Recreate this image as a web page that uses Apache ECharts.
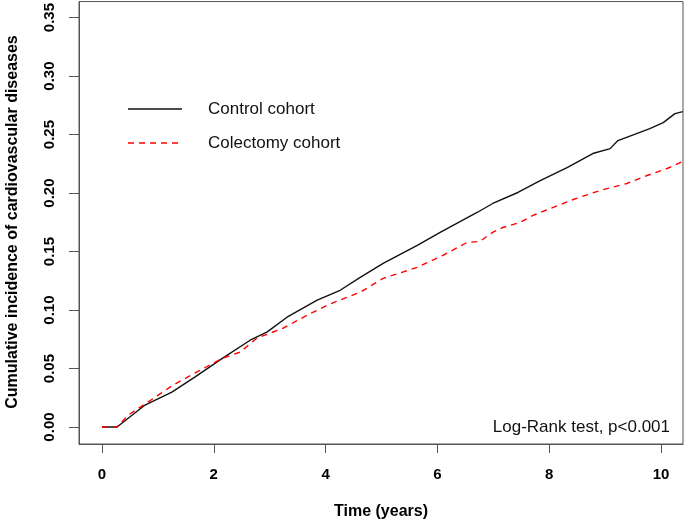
<!DOCTYPE html>
<html>
<head>
<meta charset="utf-8">
<script src="https://cdn.jsdelivr.net/npm/echarts@6/dist/echarts.min.js"></script>
<style>
html,body{margin:0;padding:0;background:#fff;}
#chart{width:685px;height:521px;}
</style>
</head>
<body>
<div id="chart"></div>
<script>
// ---- data ----
const seriesNames = ['Control cohort', 'Colectomy cohort'];
const controlTime = [0, 0.27, 0.77, 1.25, 1.66, 2.16, 2.65, 2.95, 3.31, 3.85, 4.26, 4.62, 5.03, 5.64, 6.05, 6.71, 6.99, 7.44, 7.84, 8.32, 8.78, 9.09, 9.23, 9.80, 10.04, 10.25, 10.39];
const controlCum  = [0, 0, 0.0188, 0.0299, 0.0427, 0.0589, 0.0742, 0.0811, 0.0939, 0.1084, 0.1169, 0.1280, 0.1399, 0.1553, 0.1664, 0.1834, 0.1911, 0.2005, 0.2107, 0.2218, 0.2338, 0.2380, 0.2449, 0.2551, 0.2602, 0.2679, 0.2696];
const colectomyTime = [0, 0.27, 0.47, 0.82, 1.27, 1.66, 2.16, 2.47, 2.77, 3.24, 3.67, 4.03, 4.38, 4.62, 5.03, 5.64, 6.10, 6.53, 6.76, 6.99, 7.17, 7.48, 7.71, 8.43, 8.91, 9.39, 9.75, 10.11, 10.39];
const colectomyCum  = [0, 0, 0.0102, 0.0213, 0.0358, 0.0461, 0.0589, 0.0640, 0.0759, 0.0845, 0.0956, 0.1041, 0.1109, 0.1152, 0.1271, 0.1365, 0.1468, 0.1578, 0.1587, 0.1664, 0.1706, 0.1749, 0.1809, 0.1945, 0.2022, 0.2082, 0.2150, 0.2210, 0.2270];
const xTicks = [0, 2, 4, 6, 8, 10];
const xTickLabels = ['0', '2', '4', '6', '8', '10'];
const yTicks = [0, 0.05, 0.10, 0.15, 0.20, 0.25, 0.30, 0.35];
const yTickLabels = ['0.00', '0.05', '0.10', '0.15', '0.20', '0.25', '0.30', '0.35'];
const xTitle = 'Time (years)';
const yTitle = 'Cumulative incidence of cardiovascular diseases';
const annotation = 'Log-Rank test, p<0.001';

const pair = (xs, ys) => xs.map((x, i) => [x, ys[i]]);
const FONT = '"Liberation Sans", Arial, sans-serif';
const AX = '#555';

const chart = echarts.init(document.getElementById('chart'), null, {renderer: 'canvas'});
chart.setOption({
  animation: false,
  backgroundColor: '#fff',
  grid: {left: 79, top: 1, width: 604, height: 443, show: true, borderColor: AX, borderWidth: 1, containLabel: false},
  xAxis: {
    type: 'value', min: -0.411, max: 10.394,
    splitLine: {show: false},
    axisLine: {show: true, onZero: false, lineStyle: {color: AX, width: 1}},
    axisTick: {show: true, length: 9, lineStyle: {color: AX}, customValues: xTicks},
    axisLabel: {customValues: xTicks, margin: 23, color: '#000', fontFamily: FONT, fontWeight: 'bold', fontSize: 15,
      formatter: v => xTickLabels[xTicks.indexOf(v)] ?? ''}
  },
  yAxis: {
    type: 'value', min: -0.0145, max: 0.3637,
    splitLine: {show: false},
    axisLine: {show: true, onZero: false, lineStyle: {color: AX, width: 1}},
    axisTick: {show: true, length: 10, lineStyle: {color: AX}, customValues: yTicks},
    axisLabel: {customValues: yTicks, rotate: 90, margin: 22, color: '#000', fontFamily: FONT, fontWeight: 'bold', fontSize: 15,
      formatter: v => { const i = yTicks.findIndex(t => Math.abs(t - v) < 1e-9); return i >= 0 ? yTickLabels[i] : ''; }}
  },
  series: [
    {name: seriesNames[0], type: 'line', data: pair(controlTime, controlCum), showSymbol: false, symbol: 'none',
      lineStyle: {color: '#111', width: 1.4}, clip: true, z: 3},
    {name: seriesNames[1], type: 'line', data: pair(colectomyTime, colectomyCum), showSymbol: false, symbol: 'none',
      lineStyle: {color: '#ff0000', width: 1.4, type: [6, 5]}, clip: true, z: 4}
  ],
  graphic: [
    {type: 'line', shape: {x1: 128, y1: 109, x2: 182, y2: 109}, style: {stroke: '#111', lineWidth: 1.4}},
    {type: 'line', shape: {x1: 128, y1: 143, x2: 182, y2: 143}, style: {stroke: '#ff0000', lineWidth: 1.4, lineDash: [6, 5]}},
    {type: 'text', left: 208, top: 101, style: {text: seriesNames[0], font: '17px ' + FONT, fill: '#111'}},
    {type: 'text', left: 208, top: 135, style: {text: seriesNames[1], font: '17px ' + FONT, fill: '#111'}},
    {type: 'text', x: 670, y: 427, style: {text: annotation, font: '17px ' + FONT, fill: '#111', align: 'right', verticalAlign: 'middle'}},
    {type: 'text', x: 381, y: 512, style: {text: xTitle, font: 'bold 16px ' + FONT, fill: '#000', align: 'center', verticalAlign: 'middle'}},
    {type: 'text', x: 13, y: 222, rotation: Math.PI / 2, style: {text: yTitle, font: 'bold 16px ' + FONT, fill: '#000', align: 'center', verticalAlign: 'middle'}}
  ]
});
</script>
</body>
</html>
